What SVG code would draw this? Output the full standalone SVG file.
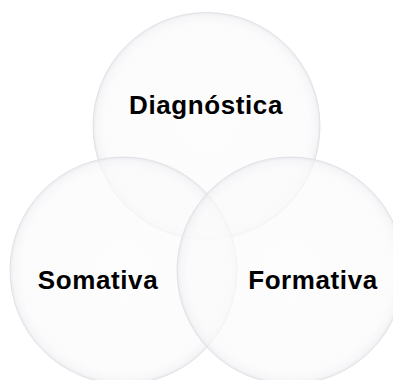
<svg xmlns="http://www.w3.org/2000/svg" width="393" height="380" viewBox="0 0 393 380">
<defs>
<radialGradient id="g" cx="0.5" cy="0.5" r="0.5">
<stop offset="0" stop-color="#fcfcfd"/>
<stop offset="0.9" stop-color="#fafafb"/>
<stop offset="0.97" stop-color="#f3f3f6"/>
<stop offset="1" stop-color="#e4e4ea"/>
</radialGradient>
</defs>
<style>
.c{fill:url(#g);fill-opacity:0.7;stroke:#dcdce0;stroke-width:0.8}
.t{font-family:"Liberation Sans",Arial,sans-serif;font-weight:bold;font-size:26px;fill:#000;text-anchor:middle}
</style>
<rect width="393" height="380" fill="#ffffff"/>
<g id="diagnostica">
<circle class="c" cx="206.5" cy="126" r="113.5"/>
<text class="t" x="206" y="114" letter-spacing="0.6">Diagnóstica</text>
</g>
<g id="somativa">
<circle class="c" cx="123.5" cy="270.5" r="113.5"/>
<text class="t" x="98" y="289" letter-spacing="0.6">Somativa</text>
</g>
<g id="formativa">
<circle class="c" cx="290.5" cy="270.5" r="113.5"/>
<text class="t" x="313" y="289" letter-spacing="0.6">Formativa</text>
</g>
<g id="connectors"/>
</svg>
